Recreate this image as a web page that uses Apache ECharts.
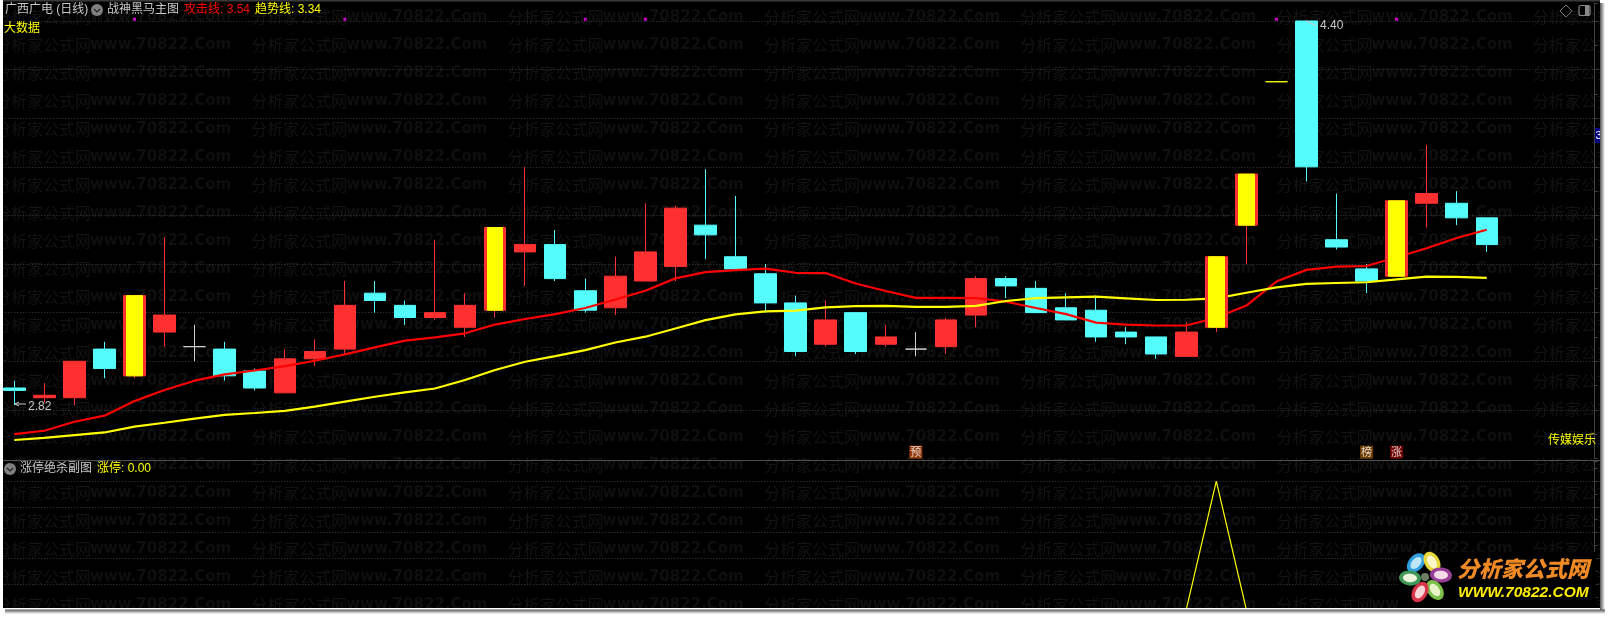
<!DOCTYPE html>
<html>
<head>
<meta charset="utf-8">
<style>html,body{margin:0;padding:0;background:#fff}#c{width:1609px;height:617px}</style>
<script src="https://cdn.jsdelivr.net/npm/echarts@6/dist/echarts.min.js"></script>
</head>
<body>
<div id="c"></div>
<script>
const days = ['1','2','3','4','5','6','7','8','9','10','11','12','13','14','15','16','17','18','19','20','21','22','23','24','25','26','27','28','29','30','31','32','33','34','35','36','37','38','39','40','41','42','43','44','45','46','47','48','49','50','','','',''];
const opens  = [2.89,2.85,2.85,3.05,2.94,3.12,3.06,3.05,2.96,2.87,3.01,3.05,3.28,3.23,3.18,3.14,3.21,3.45,3.48,3.29,3.22,3.33,3.39,3.56,3.43,3.36,3.24,3.07,3.20,3.07,3.05,3.06,3.19,3.34,3.30,3.22,3.21,3.12,3.10,3.02,3.14,3.56,4.15,4.40,3.50,3.38,3.35,3.65,3.65,3.59];
const closes = [2.88,2.86,3.00,2.97,3.27,3.19,3.06,2.94,2.89,3.01,3.04,3.23,3.25,3.18,3.20,3.23,3.55,3.48,3.34,3.21,3.35,3.45,3.63,3.52,3.38,3.24,3.04,3.17,3.04,3.10,3.05,3.17,3.34,3.31,3.20,3.17,3.10,3.10,3.03,3.12,3.43,3.77,4.15,3.80,3.47,3.33,3.66,3.69,3.59,3.48];
const highs  = [2.92,2.91,3.00,3.08,3.27,3.51,3.15,3.08,2.97,3.05,3.09,3.33,3.33,3.25,3.50,3.28,3.55,3.80,3.54,3.34,3.43,3.65,3.64,3.79,3.68,3.40,3.27,3.25,3.20,3.15,3.12,3.18,3.35,3.35,3.33,3.28,3.27,3.14,3.10,3.16,3.43,3.77,4.15,4.40,3.69,3.40,3.66,3.89,3.70,3.59];
const lows   = [2.82,2.83,2.82,2.93,2.93,3.06,3.00,2.92,2.88,2.87,2.98,3.03,3.20,3.15,3.17,3.10,3.18,3.31,3.33,3.20,3.19,3.33,3.33,3.42,3.38,3.20,3.02,3.06,3.03,3.06,3.02,3.03,3.14,3.26,3.20,3.17,3.08,3.07,3.01,3.02,3.12,3.40,4.15,3.74,3.46,3.28,3.35,3.55,3.56,3.45];
const attackLine = [2.700,2.714,2.751,2.776,2.836,2.882,2.920,2.946,2.962,2.980,3.002,3.028,3.057,3.085,3.098,3.115,3.151,3.174,3.194,3.219,3.254,3.290,3.341,3.367,3.375,3.381,3.364,3.363,3.320,3.289,3.261,3.261,3.260,3.245,3.219,3.194,3.159,3.151,3.147,3.147,3.179,3.229,3.328,3.376,3.389,3.392,3.428,3.465,3.507,3.541];
const trendLine  = [2.676,2.685,2.696,2.707,2.731,2.747,2.764,2.779,2.787,2.796,2.813,2.834,2.854,2.872,2.888,2.923,2.964,2.998,3.021,3.046,3.077,3.101,3.135,3.169,3.193,3.205,3.208,3.222,3.227,3.228,3.224,3.224,3.228,3.248,3.260,3.263,3.266,3.259,3.252,3.253,3.259,3.282,3.304,3.318,3.322,3.325,3.337,3.348,3.347,3.343];
const limitPulse = [0,0,0,0,0,0,0,0,0,0,0,0,0,0,0,0,0,0,0,0,0,0,0,0,0,0,0,0,0,0,0,0,0,0,0,0,0,0,0,0,1,0,0,0,0,0,0,0,0,0];
const limitUpDays = [4,16,40,41,46];
const oneWordDays = [42];
const dotDays = [4,11,19,21,42,46];
const dotLevel = 4.407;
const tagDays = [30,45,46];
const tagTexts = ['预','榜','涨'];
const tagColors = ['#b84a10','#8a4a00','#8b0000'];
const tagLevel = 2.626;

const RED='#ff3030', CYAN='#54fcfc', LINE_RED='#ff0000', YEL='#ffff00', GREY='#c8c8c8';
const FONT='"Liberation Sans","Noto Sans CJK SC",sans-serif';

const N = opens.length;
const blank = ['-','-','-','-'];
const kind = i => limitUpDays.includes(i) ? 'limit' : oneWordDays.includes(i) ? 'word'
  : closes[i] > opens[i] ? 'up' : closes[i] < opens[i] ? 'down' : 'flat';
const rows = k => opens.map((o,i)=> kind(i)===k ? [o,closes[i],lows[i],highs[i]] : blank);

function candle(name,k,color,width,z,data){
  return {name,type:'candlestick',xAxisIndex:0,yAxisIndex:0,z,barWidth:width,
    data:data||rows(k),
    itemStyle:{color,color0:color,borderColor:color,borderColor0:color,borderColorDoji:color,borderWidth:1}};
}
const faceRows = opens.map((o,i)=> kind(i)==='limit' ? [o,closes[i],o,closes[i]] : blank);

function T(x,y,text,fill,size,extra){
  return Object.assign({type:'text',x,y,z:40,silent:true,style:Object.assign({text,fill,font:(size||12)+'px '+FONT,textBaseline:'middle',textVerticalAlign:'middle',verticalAlign:'middle'},extra||{})});
}
const gfx = [];
// watermark
for(let r=0;r<22;r++){for(let c=0;c<7;c++){
  const x=-5+256.3*c, y=17.3+28*r;
  gfx.push({type:'text',x,y,z:-5,silent:true,style:{text:'分析家公式网',fill:'#131313',font:'16px "Noto Sans CJK SC"',verticalAlign:'middle'}});
  gfx.push({type:'text',x:x+95,y,z:-5,silent:true,style:{text:'www.70822.Com',fill:'#0f0f0f',font:'bold 15px "DejaVu Sans"',verticalAlign:'middle'}});
}}
// headers
gfx.push(T(5,10,'广西广电 (日线)',GREY));
gfx.push({type:'circle',z:40,shape:{cx:97,cy:10,r:6},style:{fill:'#808080'}});
gfx.push({type:'polyline',z:41,shape:{points:[[94,9],[97,12],[100,9]]},style:{stroke:'#222',lineWidth:1.2,fill:'none'}});
gfx.push(T(107,10,'战神黑马主图',GREY));
gfx.push(T(184,10,'攻击线: 3.54','#ff0000'));
gfx.push(T(255,10,'趋势线: 3.34',YEL));
gfx.push(T(4,29,'大数据',YEL));
gfx.push(T(1548,441,'传媒娱乐',YEL));
gfx.push({type:'circle',z:40,shape:{cx:10,cy:469,r:6},style:{fill:'#808080'}});
gfx.push({type:'polyline',z:41,shape:{points:[[7,468],[10,471],[13,468]]},style:{stroke:'#222',lineWidth:1.2,fill:'none'}});
gfx.push(T(20,469,'涨停绝杀副图',GREY));
gfx.push(T(97,469,'涨停: 0.00',YEL));
// extreme labels
gfx.push({type:'line',z:40,shape:{x1:15,y1:404,x2:26,y2:404},style:{stroke:GREY,lineWidth:1}});
gfx.push({type:'polyline',z:40,shape:{points:[[19,402],[15,404],[19,406]]},style:{stroke:GREY,lineWidth:1,fill:'none'}});
gfx.push(T(28,407,'2.82',GREY));
gfx.push({type:'line',z:40,shape:{x1:1306,y1:21,x2:1317,y2:26},style:{stroke:GREY,lineWidth:1}});
gfx.push(T(1320,26,'4.40',GREY));
// right icons
gfx.push({type:'polygon',z:40,shape:{points:[[1566,5],[1572,11],[1566,17],[1560,11]]},style:{fill:'none',stroke:'#777',lineWidth:1}});
gfx.push({type:'rect',z:40,shape:{x:1579,y:5.5,width:11,height:10,r:2},style:{fill:'none',stroke:'#888',lineWidth:1.2}});
gfx.push({type:'rect',z:40,shape:{x:1585,y:6,width:4,height:9},style:{fill:'#888'}});
gfx.push({type:'rect',z:40,shape:{x:1595,y:128,width:5,height:15},style:{fill:'#000080'}});
gfx.push(T(1595.5,135.5,'3','#fff',11));
// separator
gfx.push({type:'line',z:30,shape:{x1:3,y1:460.5,x2:1600,y2:460.5},style:{stroke:'#505050',lineWidth:1}});
// logo
gfx.push({type:'rect',z:42,shape:{x:1398,y:552,width:198,height:56},style:{fill:'#000'}});
const petals=[[1416,563,-50,'#2f9fe0'],[1432,562,60,'#e8d83a'],[1441,575,5,'#9a3f98'],[1435,590,55,'#7cc04a'],[1420,592,-60,'#d8354a'],[1410,578,5,'#3f9a5a']];
const petalsIn=['#bfe6f5','#faf6c8','#f5dbe8','#e8f4c8','#f6d6d8','#eef4dc'];
petals.forEach((p,i)=>{
  gfx.push({type:'ellipse',z:43,x:p[0],y:p[1],rotation:-p[2]*Math.PI/180,shape:{cx:0,cy:0,rx:11,ry:7.5},style:{fill:p[3]}});
  gfx.push({type:'ellipse',z:44,x:p[0],y:p[1],rotation:-p[2]*Math.PI/180,shape:{cx:0,cy:0,rx:7,ry:4.2},style:{fill:petalsIn[i]}});
});
gfx.push({type:'circle',z:45,shape:{cx:1425,cy:577,r:4},style:{fill:'#6f7f66'}});
gfx.push({type:'text',z:44,x:1457,y:569,style:{text:'分析家公式网',font:'italic 900 22px "Noto Sans CJK SC"',verticalAlign:'middle',fill:'#f08a25'}});
gfx.push({type:'text',z:44,x:1458,y:593,style:{text:'WWW.70822.COM',font:'italic bold 15.5px "Liberation Sans"',verticalAlign:'middle',fill:'#ffee00'}});
// page frame
gfx.push({type:'rect',z:50,shape:{x:0,y:0,width:3,height:617},style:{fill:'#fff'}});
gfx.push({type:'rect',z:50,shape:{x:1600,y:0,width:9,height:617},style:{fill:'#fff'}});
gfx.push({type:'rect',z:50,shape:{x:0,y:608,width:1609,height:9},style:{fill:'#fff'}});
gfx.push({type:'rect',z:50,shape:{x:3,y:0,width:1597,height:1.5},style:{fill:'#3a3a3a'}});
gfx.push({type:'rect',z:51,shape:{x:1600,y:3,width:5,height:609},style:{fill:new echarts.graphic.LinearGradient(0,0,1,0,[{offset:0,color:'#555'},{offset:1,color:'#fff'}])}});
gfx.push({type:'rect',z:51,shape:{x:5,y:609.5,width:1600,height:4.5},style:{fill:new echarts.graphic.LinearGradient(0,0,0,1,[{offset:0,color:'#555'},{offset:1,color:'#fff'}])}});

const chart = echarts.init(document.getElementById('c'),null,{renderer:'canvas',width:1609,height:617});
const gridLine={show:true,showMinLine:false,showMaxLine:false,lineStyle:{color:'#3e3e3e',type:[1,2],width:1}};
const tickAxis=(grid,min,max)=>({gridIndex:grid,type:'value',position:'right',offset:-27.3,min,max,interval:0.1,
  axisLabel:{show:false},splitLine:{show:false},axisLine:{show:true,onZero:false,lineStyle:{color:'#404040'}},
  axisTick:{show:true,length:3,lineStyle:{color:'#404040'}}});
chart.setOption({
  animation:false,
  backgroundColor:'#000',
  grid:[
    {left:-0.72,top:3,width:1622.7,height:455.47,outerBoundsMode:'none',containLabel:false},
    {left:-0.72,top:461,width:1622.7,height:148.7,outerBoundsMode:'none',containLabel:false}
  ],
  xAxis:[
    {gridIndex:0,type:'category',data:days,show:false,boundaryGap:true},
    {gridIndex:1,type:'category',data:days,show:false,boundaryGap:true}
  ],
  yAxis:[
    {gridIndex:0,type:'value',min:2.6,max:4.474,interval:0.2,scale:true,axisLabel:{show:false},axisLine:{show:false},axisTick:{show:false},splitLine:gridLine},
    tickAxis(0,2.6,4.474),
    {gridIndex:1,type:'value',min:0,max:1.157,interval:0.2,axisLabel:{show:false},axisLine:{show:false},axisTick:{show:false},splitLine:gridLine},
    tickAxis(1,0,1.157)
  ],
  series:[
    candle('阳线','up',RED,22,2),
    candle('阴线','down',CYAN,22,2),
    candle('十字','flat','#d0d0d0',22,2),
    {name:'攻击线',type:'line',xAxisIndex:0,yAxisIndex:0,z:3,data:attackLine,symbol:'none',lineStyle:{color:LINE_RED,width:2.2}},
    {name:'趋势线',type:'line',xAxisIndex:0,yAxisIndex:0,z:3,data:trendLine,symbol:'none',lineStyle:{color:YEL,width:2.2}},
    candle('涨停边','limit',RED,22,4),
    candle('涨停','limit',YEL,16,5,faceRows),
    candle('一字板','word',YEL,22,5),
    {name:'标记',type:'scatter',xAxisIndex:0,yAxisIndex:0,z:6,symbol:'rect',symbolSize:3,silent:true,
      itemStyle:{color:'#ff00ff'},data:dotDays.map(d=>[d,dotLevel])},
    {name:'题材',type:'scatter',xAxisIndex:0,yAxisIndex:0,z:6,symbol:'rect',symbolSize:13,silent:true,
      data:tagDays.map((d,i)=>({value:[d,tagLevel],itemStyle:{color:tagColors[i]},
        label:{show:true,position:'inside',formatter:tagTexts[i],color:'#fff',fontSize:11,fontFamily:'"Noto Sans CJK SC"'}}))},
    {name:'涨停副图',type:'line',xAxisIndex:1,yAxisIndex:2,z:3,data:limitPulse,symbol:'none',lineStyle:{color:YEL,width:1.2}}
  ],
  graphic:{elements:gfx}
});
</script>
</body>
</html>
